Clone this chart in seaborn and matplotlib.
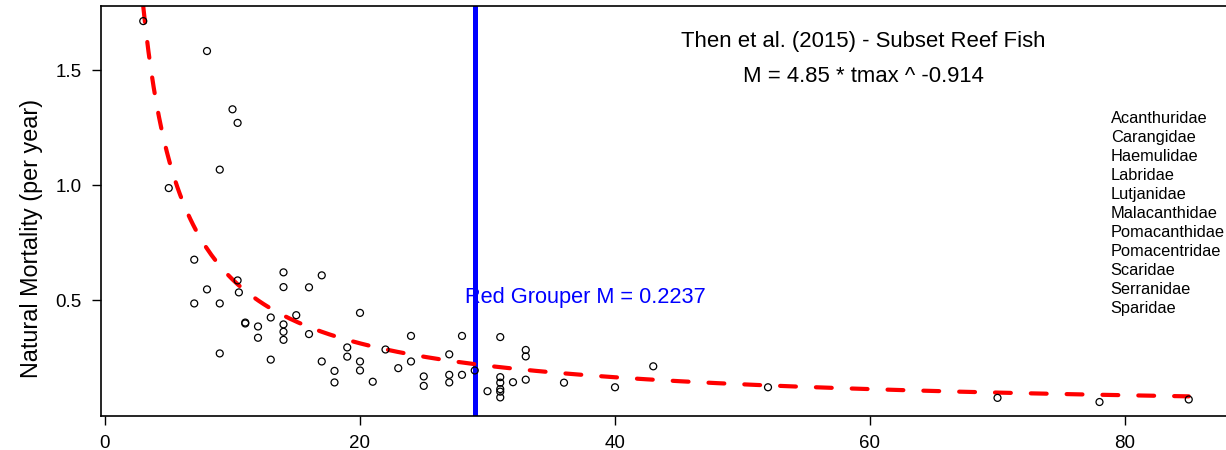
import numpy as np
import pandas as pd
import matplotlib
matplotlib.use("Agg")
import matplotlib.pyplot as plt
import seaborn as sns

# maximum age (years) and natural mortality
tmax = [3, 8, 10, 10.4, 9, 5, 7, 10.4, 10.5, 14, 14, 8, 7, 9, 15, 13, 11, 11,
        12, 14, 14, 12, 14, 9, 13, 17, 16, 16, 20, 19, 19, 17, 20, 20, 18, 18,
        21, 24, 22, 23, 24, 25, 25, 27, 27, 27, 28, 28, 29, 30, 31, 31, 31, 31,
        31, 31, 32, 33, 33, 33, 36, 40, 43, 52, 70, 78, 85]
mort = [1.713, 1.583, 1.330, 1.271, 1.068, 0.988, 0.677, 0.587, 0.535, 0.622,
        0.558, 0.548, 0.487, 0.487, 0.436, 0.426, 0.404, 0.400, 0.387, 0.396,
        0.364, 0.338, 0.329, 0.270, 0.243, 0.609, 0.557, 0.354, 0.446, 0.296,
        0.256, 0.235, 0.235, 0.196, 0.194, 0.144, 0.147, 0.346, 0.287, 0.206,
        0.235, 0.170, 0.129, 0.266, 0.177, 0.144, 0.346, 0.177, 0.196, 0.106,
        0.341, 0.167, 0.143, 0.115, 0.104, 0.079, 0.145, 0.285, 0.257, 0.156,
        0.143, 0.123, 0.214, 0.123, 0.077, 0.059, 0.070]

families = ["Acanthuridae", "Carangidae", "Haemulidae", "Labridae", "Lutjanidae",
            "Malacanthidae", "Pomacanthidae", "Pomacentridae", "Scaridae",
            "Serranidae", "Sparidae"]

# fitted model as printed on the chart: M = a * tmax ^ b
coef_a = 4.85
coef_b = -0.914
red_grouper_tmax = 29
red_grouper_m = 0.2237

df = pd.DataFrame({"tmax": tmax, "M": mort})
grid = np.linspace(min(tmax), max(tmax), 400)
fit = pd.DataFrame({"tmax": grid, "M": coef_a * grid ** coef_b})

sns.set_style("ticks")
plt.rcParams["font.family"] = ["Liberation Sans", "DejaVu Sans"]
plt.rcParams["text.color"] = "black"
plt.rcParams["xtick.color"] = "black"
plt.rcParams["ytick.color"] = "black"
plt.rcParams["axes.labelcolor"] = "black"

W, H = 1226, 450
fig = plt.figure(figsize=(W / 100, H / 100), dpi=100)
# plot region: x=0 at px 105 (12.75 px/yr), y=0 at px 415.6 (230.3 px/unit)
x0, x1 = -0.28, 88.28
y0, y1 = 0.0, 1.78
left = (105 + x0 * 12.75) / W
bottom = (H - 415.6) / H
ax = fig.add_axes([left, bottom, (x1 - x0) * 12.75 / W, (y1 - y0) * 230.3 / H])

ax.axvline(red_grouper_tmax, color="#0000FF", lw=3.6, zorder=2)

sns.lineplot(data=fit, x="tmax", y="M", color="#FF0000", lw=3.0, ax=ax, zorder=2)
curve = ax.lines[-1]
curve.set_dashes((3.8, 4.8))
curve.set_dash_capstyle("round")

sns.scatterplot(data=df, x="tmax", y="M", marker="o", s=25, facecolor="none",
                edgecolor="black", linewidth=0.9, ax=ax, zorder=3)

ax.set_xlim(x0, x1)
ax.set_ylim(y0, y1)
ax.set_xticks([0, 20, 40, 60, 80])
ax.set_yticks([0.5, 1.0, 1.5])
ax.set_yticklabels(["0.5", "1.0", "1.5"])
ax.tick_params(axis="both", labelsize=13.5, length=6.8, width=1.0,
               color="black", labelcolor="black")
ax.tick_params(axis="y", pad=7.4)
ax.tick_params(axis="x", pad=7.5)
ax.set_xlabel("")
ax.set_ylabel("")
for side in ["left", "bottom", "top", "right"]:
    ax.spines[side].set_visible(True)
    ax.spines[side].set_linewidth(1.2)
    ax.spines[side].set_color("black")

ax.text(37.7, (415.6 - 303.3) / 230.3, f"Red Grouper M = {red_grouper_m}",
        color="#0000FF", fontsize=15.7, ha="center", va="baseline")

fig.text(863 / W, 1 - 47.3 / H, "Then et al. (2015) - Subset Reef Fish",
         fontsize=15.9, ha="center", va="baseline")
fig.text(863 / W, 1 - 82.3 / H, f"M = {coef_a} * tmax ^ {coef_b}",
         fontsize=15.9, ha="center", va="baseline")

for i, name in enumerate(families):
    fig.text(1110.7 / W, 1 - (123.0 + i * 19.0) / H, name,
             fontsize=11.8, ha="left", va="baseline")

fig.text(32 / W, 1 - 238 / H, "Natural Mortality (per year)", rotation=90,
         fontsize=16.8, ha="center", va="center")

fig.savefig("out.png", dpi=100)
